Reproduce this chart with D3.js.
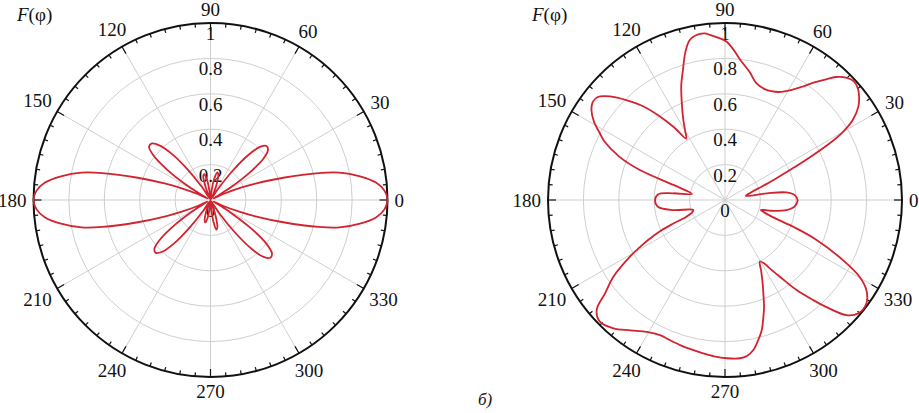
<!DOCTYPE html>
<html>
<head>
<meta charset="utf-8">
<script src="https://cdn.jsdelivr.net/npm/d3@7"></script>
<style>
  html, body { margin: 0; padding: 0; background: #fff; }
  svg { display: block; }
</style>
</head>
<body>
<svg id="chart" width="919" height="413" font-family="'Liberation Serif', 'Times New Roman', serif"></svg>
<script>
// angle ticks of both diagrams (degrees) and radial ticks
const angleTicks = [0, 30, 60, 90, 120, 150, 180, 210, 240, 270, 300, 330];
const radialTicks = [0.2, 0.4, 0.6, 0.8, 1];
const radialLabels = ["0", "0.2", "0.4", "0.6", "0.8", "1"];

// left diagram (a): angle in degrees, F value
const leftAngles = [0, 3, 6, 9, 12, 14, 17, 20, 22, 25, 27,
  29, 32, 35, 38, 41, 44, 47, 50, 53, 56, 59,
  64, 69, 73, 76, 80, 84, 90, 96, 100, 104, 107, 111, 116,
  121, 124, 127, 130, 133, 136, 139, 142, 145, 148, 151,
  153, 155, 158, 160, 163, 166, 168, 171, 174, 177, 180,
  183, 186, 189, 192, 194, 197, 200, 202, 205, 207,
  209, 212, 215, 218, 221, 224, 227, 230, 233, 236, 239,
  246, 251, 254, 257, 261, 265, 270, 274, 278, 281, 284, 288, 294,
  301, 304, 307, 310, 313, 316, 319, 322, 325, 328, 331,
  333, 335, 338, 340, 343, 346, 348, 351, 354, 357];
const leftValues = [1.0, 0.985, 0.94, 0.855, 0.745, 0.63, 0.43, 0.27, 0.19, 0.08, 0.02,
  0.03, 0.13, 0.27, 0.38, 0.43, 0.44, 0.41, 0.33, 0.2, 0.07, 0.01,
  0.03, 0.1, 0.15, 0.16, 0.12, 0.04, 0.0, 0.04, 0.12, 0.15, 0.14, 0.07, 0.01,
  0.02, 0.1, 0.22, 0.34, 0.42, 0.46, 0.46, 0.41, 0.3, 0.16, 0.04,
  0.02, 0.08, 0.18, 0.27, 0.43, 0.63, 0.745, 0.855, 0.94, 0.985, 1.0,
  0.985, 0.94, 0.855, 0.745, 0.63, 0.43, 0.27, 0.18, 0.08, 0.02,
  0.03, 0.12, 0.25, 0.36, 0.42, 0.43, 0.4, 0.32, 0.19, 0.07, 0.01,
  0.03, 0.09, 0.12, 0.13, 0.1, 0.03, 0.0, 0.04, 0.13, 0.17, 0.16, 0.09, 0.01,
  0.02, 0.1, 0.23, 0.36, 0.44, 0.47, 0.46, 0.4, 0.28, 0.13, 0.03,
  0.02, 0.08, 0.18, 0.27, 0.43, 0.63, 0.745, 0.855, 0.94, 0.985];

// right diagram (b)
const rightAngles = [0, 4, 7, 9, 11.3, 16, 20, 22.5, 25, 27, 28.5, 30, 32, 35, 37.5, 40, 42.5,
  45, 48, 50, 53, 56, 59, 63, 67, 70, 75, 79, 84, 87, 89.5, 92, 95, 97, 100, 102.5,
  105, 108, 111, 114, 117.5, 120, 122.3, 125, 128, 131, 134.5, 138, 141, 143.5, 146,
  149, 152, 154, 157.7, 160.6, 163.8, 169.5, 172.6, 175, 180, 186, 191, 197.5,
  201, 203.5, 204.5, 205.5, 207.5, 209, 210.8, 214.5, 217.9, 220.6, 224.2, 229, 234,
  239.3, 244.3, 248, 252.8, 257, 261.9, 266, 270.6, 275.4, 278, 280.7, 283, 285.8,
  288, 290.1, 292, 294.3, 297, 299.5, 301.6, 303.5, 305.6, 308.5, 311.4, 313.4,
  316.5, 319.5, 323.8, 327.5, 330.3, 333, 336.5, 338.5, 340, 342, 344.5, 347, 350.5, 354, 357];
const rightValues = [0.41, 0.395, 0.35, 0.24, 0.12, 0.15, 0.22, 0.3, 0.42, 0.56, 0.68, 0.77, 0.85, 0.92, 0.955, 0.98, 0.99,
  0.975, 0.935, 0.89, 0.83, 0.77, 0.725, 0.685, 0.668, 0.665, 0.683, 0.735, 0.8, 0.855, 0.895, 0.915, 0.935, 0.948, 0.945, 0.925,
  0.865, 0.77, 0.69, 0.6, 0.51, 0.45, 0.41, 0.5, 0.6, 0.7, 0.79, 0.875, 0.925, 0.93, 0.91,
  0.865, 0.8, 0.76, 0.646, 0.51, 0.3, 0.19, 0.295, 0.378, 0.395, 0.379, 0.297, 0.188,
  0.2, 0.24, 0.32, 0.4, 0.49, 0.55, 0.625, 0.765, 0.859, 0.955, 0.986, 0.961, 0.91,
  0.866, 0.847, 0.85, 0.858, 0.865, 0.875, 0.885, 0.894, 0.898, 0.89, 0.862, 0.82, 0.763,
  0.7, 0.642, 0.58, 0.517, 0.45, 0.4, 0.42, 0.47, 0.533, 0.65, 0.754, 0.831,
  0.945, 0.988, 0.99, 0.947, 0.875, 0.748, 0.56, 0.42, 0.3, 0.24, 0.21, 0.27, 0.35, 0.39, 0.405];

const R = 177;
const cy = 200;
const red = "#d2232f";

const svg = d3.select("#chart");

const r = d3.scaleLinear().domain([0, 1]).range([0, R]);
// math angle (ccw from east, degrees) -> d3 radial angle (cw from north, radians)
const a = d3.scaleLinear().domain([0, 360]).range([Math.PI / 2, Math.PI / 2 - 2 * Math.PI]);

function drawPolar(cx, angles, values, labelX) {
    const g = svg.append("g").attr("transform", "translate(" + cx + "," + cy + ")");

    // grid circles
    g.selectAll(".ring").data(radialTicks.slice(0, -1)).enter().append("circle")
        .attr("r", d => r(d)).attr("fill", "none")
        .attr("stroke", "#cfcfcf").attr("stroke-width", 1);

    // spokes
    g.selectAll(".spoke").data(angleTicks).enter().append("line")
        .attr("x1", 0).attr("y1", 0)
        .attr("x2", d => R * Math.cos(d * Math.PI / 180))
        .attr("y2", d => -R * Math.sin(d * Math.PI / 180))
        .attr("stroke", "#cfcfcf").attr("stroke-width", 1);

    // outer frame
    g.append("circle").attr("r", R).attr("fill", "none")
        .attr("stroke", "#111").attr("stroke-width", 2);

    // ticks on the frame
    const minor = d3.range(0, 360, 5);
    g.selectAll(".tick").data(minor).enter().append("line")
        .attr("x1", d => R * Math.cos(d * Math.PI / 180))
        .attr("y1", d => -R * Math.sin(d * Math.PI / 180))
        .attr("x2", d => (R - (d % 30 === 0 ? 8 : 4)) * Math.cos(d * Math.PI / 180))
        .attr("y2", d => -(R - (d % 30 === 0 ? 8 : 4)) * Math.sin(d * Math.PI / 180))
        .attr("stroke", "#111").attr("stroke-width", 1.2);

    // radial labels along the 90 deg spoke
    g.selectAll(".rlab").data(radialLabels).enter().append("text")
        .attr("x", 0)
        .attr("y", (d, i) => -r(i * 0.2) + 17)
        .attr("text-anchor", "middle")
        .attr("font-size", 19)
        .attr("fill", "#111")
        .text(d => d);

    // angle labels
    g.selectAll(".alab").data(angleTicks).enter().append("text")
        .attr("text-anchor", "middle")
        .attr("font-size", 19)
        .attr("fill", "#111")
        .text(d => d)
        .each(function(d) {
            const w = this.getComputedTextLength();
            const t = d * Math.PI / 180;
            const rr = R + 7 + (w / 2) * Math.abs(Math.cos(t)) + 7 * Math.abs(Math.sin(t));
            d3.select(this)
                .attr("x", rr * Math.cos(t))
                .attr("y", -rr * Math.sin(t) + 6.5);
        });

    // pattern
    const pts = angles.map((d, i) => [d, values[i]]);
    const line = d3.lineRadial()
        .angle(d => a(d[0]))
        .radius(d => r(d[1]))
        .curve(d3.curveCatmullRomClosed.alpha(0.5));
    g.append("path").attr("d", line(pts))
        .attr("fill", "none").attr("stroke", red)
        .attr("stroke-width", 1.8).attr("stroke-linejoin", "round");

    // axis title
    const title = svg.append("text").attr("x", labelX).attr("y", 21)
        .attr("font-size", 19).attr("fill", "#111");
    title.append("tspan").attr("font-style", "italic").text("F");
    title.append("tspan").text("(φ)");
}

drawPolar(210.5, leftAngles, leftValues, 17);
drawPolar(725, rightAngles, rightValues, 532);

svg.append("text").attr("x", 478).attr("y", 405).attr("fill", "#111")
    .attr("font-size", 17).attr("font-style", "italic").text("б)");
</script>
</body>
</html>
